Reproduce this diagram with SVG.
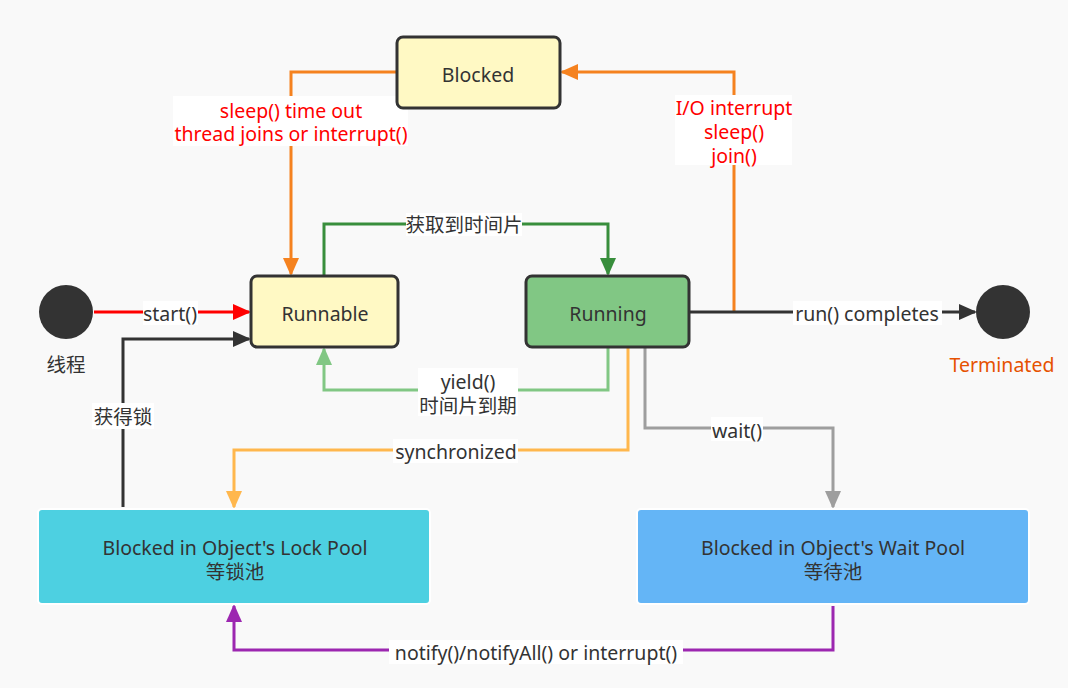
<svg xmlns="http://www.w3.org/2000/svg" width="1068" height="688" viewBox="0 0 1068 688">
<defs>
<style>
text{font-family:"Noto Sans","Noto Sans CJK SC",sans-serif;font-size:19.5px;fill:#333;text-anchor:middle;dominant-baseline:central}
.red{fill:#ff0000}
.c{fill:none;stroke-width:3}
.st{fill:#fff9c4;stroke:#333;stroke-width:3}
.lb{fill:#fff}
</style>
<marker id="aRed" markerUnits="userSpaceOnUse" markerWidth="18" markerHeight="16" refX="16" refY="8" orient="auto"><path d="M0,0L18,8L0,16z" fill="#ff0000"/></marker>
<marker id="aDark" markerUnits="userSpaceOnUse" markerWidth="18" markerHeight="16" refX="16" refY="8" orient="auto"><path d="M0,0L18,8L0,16z" fill="#333"/></marker>
<marker id="aOr" markerUnits="userSpaceOnUse" markerWidth="18" markerHeight="16" refX="16" refY="8" orient="auto"><path d="M0,0L18,8L0,16z" fill="#f5821f"/></marker>
<marker id="aGr" markerUnits="userSpaceOnUse" markerWidth="18" markerHeight="16" refX="16" refY="8" orient="auto"><path d="M0,0L18,8L0,16z" fill="#388e3c"/></marker>
<marker id="aLg" markerUnits="userSpaceOnUse" markerWidth="18" markerHeight="16" refX="16" refY="8" orient="auto"><path d="M0,0L18,8L0,16z" fill="#81c784"/></marker>
<marker id="aYo" markerUnits="userSpaceOnUse" markerWidth="18" markerHeight="16" refX="16" refY="8" orient="auto"><path d="M0,0L18,8L0,16z" fill="#ffb74d"/></marker>
<marker id="aGy" markerUnits="userSpaceOnUse" markerWidth="18" markerHeight="16" refX="16" refY="8" orient="auto"><path d="M0,0L18,8L0,16z" fill="#9e9e9e"/></marker>
<marker id="aPu" markerUnits="userSpaceOnUse" markerWidth="18" markerHeight="16" refX="16" refY="8" orient="auto"><path d="M0,0L18,8L0,16z" fill="#9c27b0"/></marker>
</defs>
<rect width="1068" height="688" fill="#f9f9f9"/>

<g id="connectors">
  <path class="c" stroke="#f5821f" d="M397,72H291V274" marker-end="url(#aOr)"/>
  <path class="c" stroke="#f5821f" d="M734,312V72H562" marker-end="url(#aOr)"/>
  <path class="c" stroke="#388e3c" d="M324,276V224H608V274" marker-end="url(#aGr)"/>
  <path class="c" stroke="#ff0000" d="M94,312H249" marker-end="url(#aRed)"/>
  <path class="c" stroke="#333" d="M123,507V339H249" marker-end="url(#aDark)"/>
  <path class="c" stroke="#81c784" d="M608,347V390H324V349" marker-end="url(#aLg)"/>
  <path class="c" stroke="#333" d="M689,312H975" marker-end="url(#aDark)"/>
  <path class="c" stroke="#ffb74d" d="M628,347V450H234V507" marker-end="url(#aYo)"/>
  <path class="c" stroke="#9e9e9e" d="M645,347V428H833V507" marker-end="url(#aGy)"/>
  <path class="c" stroke="#9c27b0" d="M833,606V650H234V606" marker-end="url(#aPu)"/>

  <rect class="lb" x="173" y="96" width="235" height="50"/>
  <text class="red" x="291" y="110">sleep() time out</text>
  <text class="red" x="291" y="133">thread joins or interrupt()</text>

  <rect class="lb" x="675" y="95" width="117" height="70"/>
  <text class="red" x="734" y="107">I/O interrupt</text>
  <text class="red" x="734" y="131">sleep()</text>
  <text class="red" x="734" y="155">join()</text>

  <rect class="lb" x="406" y="213" width="116" height="23"/>
  <text x="464" y="224">获取到时间片</text>

  <rect class="lb" x="143" y="301" width="55" height="24"/>
  <text x="170" y="313">start()</text>

  <rect class="lb" x="92" y="403" width="62" height="26"/>
  <text x="123" y="416">获得锁</text>

  <rect class="lb" x="418" y="368" width="100" height="48"/>
  <text x="468" y="381">yield()</text>
  <text x="468" y="405">时间片到期</text>

  <rect class="lb" x="793" y="301" width="149" height="24"/>
  <text x="867" y="313">run() completes</text>

  <rect class="lb" x="393" y="439" width="125" height="24"/>
  <text x="456" y="451">synchronized</text>

  <rect class="lb" x="711" y="417" width="52" height="24"/>
  <text x="737" y="430">wait()</text>

  <rect class="lb" x="389" y="640" width="294" height="24"/>
  <text x="536" y="652">notify()/notifyAll() or interrupt()</text>
</g>

<g id="start">
  <circle cx="66" cy="312" r="27" fill="#333"/>
  <text x="66" y="364">线程</text>
</g>
<g id="terminated">
  <circle cx="1003" cy="312" r="27" fill="#333"/>
  <text x="1002" y="364" style="fill:#e65100">Terminated</text>
</g>
<g id="blocked">
  <rect class="st" x="397" y="37" width="163" height="71" rx="6"/>
  <text x="478" y="74">Blocked</text>
</g>
<g id="runnable">
  <rect class="st" x="251" y="276" width="147" height="71" rx="6"/>
  <text x="325" y="313">Runnable</text>
</g>
<g id="running">
  <rect x="526" y="276" width="163" height="71" rx="6" fill="#81c784" stroke="#333" stroke-width="3"/>
  <text x="608" y="313">Running</text>
</g>
<g id="lockpool">
  <rect x="38" y="509" width="392" height="95" rx="4" fill="#4dd0e1" stroke="#fff" stroke-width="2"/>
  <text x="235" y="547">Blocked in Object's Lock Pool</text>
  <text x="235" y="571">等锁池</text>
</g>
<g id="waitpool">
  <rect x="637" y="509" width="392" height="95" rx="4" fill="#64b5f6" stroke="#fff" stroke-width="2"/>
  <text x="833" y="547">Blocked in Object's Wait Pool</text>
  <text x="833" y="571">等待池</text>
</g>
</svg>
